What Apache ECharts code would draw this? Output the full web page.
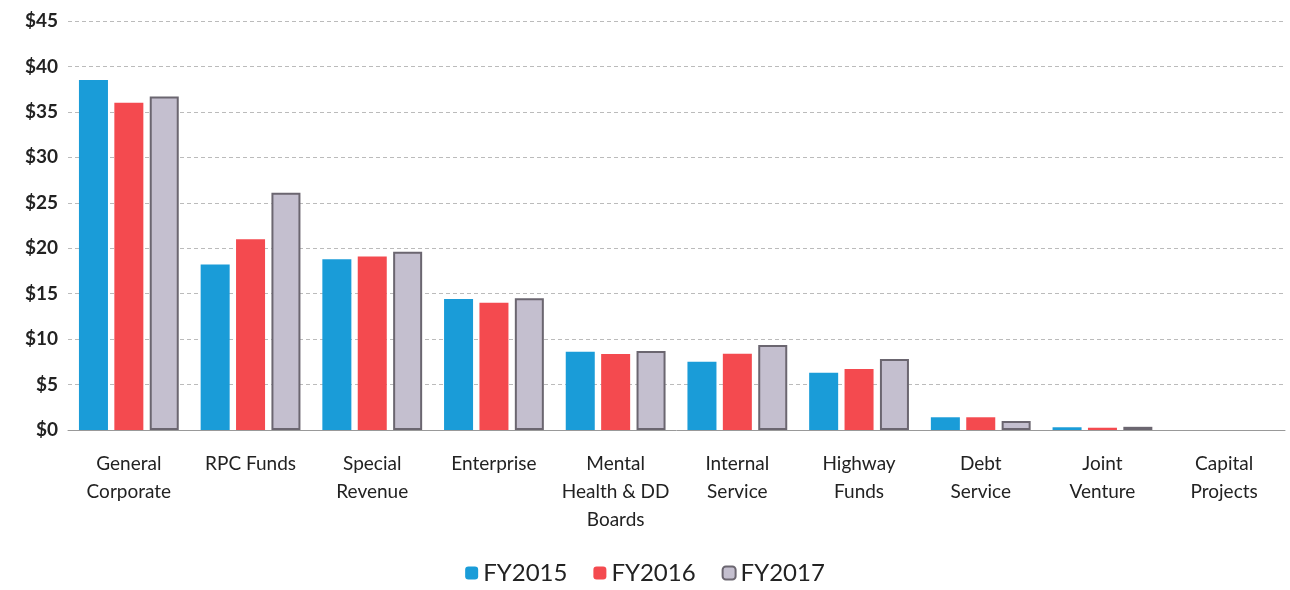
<!DOCTYPE html>
<html><head><meta charset="utf-8">
<script src="https://cdn.jsdelivr.net/npm/echarts@6/dist/echarts.min.js"></script>
<style>html,body{margin:0;padding:0;background:#fff}#c{width:1290px;height:590px}</style>
</head><body><div id="c"></div>
<script>
const categories = ["General\nCorporate","RPC Funds","Special\nRevenue","Enterprise","Mental\nHealth & DD\nBoards","Internal\nService","Highway\nFunds","Debt\nService","Joint\nVenture","Capital\nProjects"];
const fy2015 = [38.5, 18.2, 18.8, 14.4, 8.6, 7.5, 6.3, 1.4, 0.3, 0];
const fy2016 = [36.0, 21.0, 19.1, 14.0, 8.35, 8.4, 6.7, 1.4, 0.25, 0];
const fy2017 = [36.7, 26.1, 19.6, 14.5, 8.7, 9.35, 7.8, 1.0, 0.35, 0];
const yTicks = [0,5,10,15,20,25,30,35,40,45];

const font = 'Lato, "Open Sans", sans-serif';
const grayItems = fy2017.map(v => v === 0 ? {value:v,itemStyle:{borderWidth:0}} : v);
const chart = echarts.init(document.getElementById('c'));
chart.setOption({
  animation:false,
  textStyle:{fontFamily:font},
  legend:{bottom:0,left:'center',itemWidth:13,itemHeight:13,itemGap:26,
    textStyle:{fontSize:24,color:'#222',fontFamily:font},
    data:['FY2015','FY2016','FY2017']},
  grid:{left:68,right:5,top:21,bottom:160},
  xAxis:{type:'category',data:categories,
    axisLine:{lineStyle:{color:'#999'}},axisTick:{show:false},
    axisLabel:{fontSize:19,color:'#222',lineHeight:28,margin:20,interval:0,fontFamily:font}},
  yAxis:{type:'value',min:yTicks[0],max:yTicks[yTicks.length-1],interval:5,
    axisLine:{show:false},axisTick:{show:false},
    axisLabel:{fontSize:19,color:'#222',fontWeight:'bold',margin:10,formatter:v=>'$'+v,fontFamily:font},
    splitLine:{lineStyle:{color:'#bbb',type:[4,3]}}},
  series:[
    {name:'FY2015',type:'bar',data:fy2015,barGap:'22%',barCategoryGap:'18%',itemStyle:{color:'#1a9cd8'}},
    {name:'FY2016',type:'bar',data:fy2016,itemStyle:{color:'#f44a4f'}},
    {name:'FY2017',type:'bar',data:grayItems,itemStyle:{color:'#c4bfcf',borderColor:'#6b6670',borderWidth:2}}
  ]
});
</script></body></html>
